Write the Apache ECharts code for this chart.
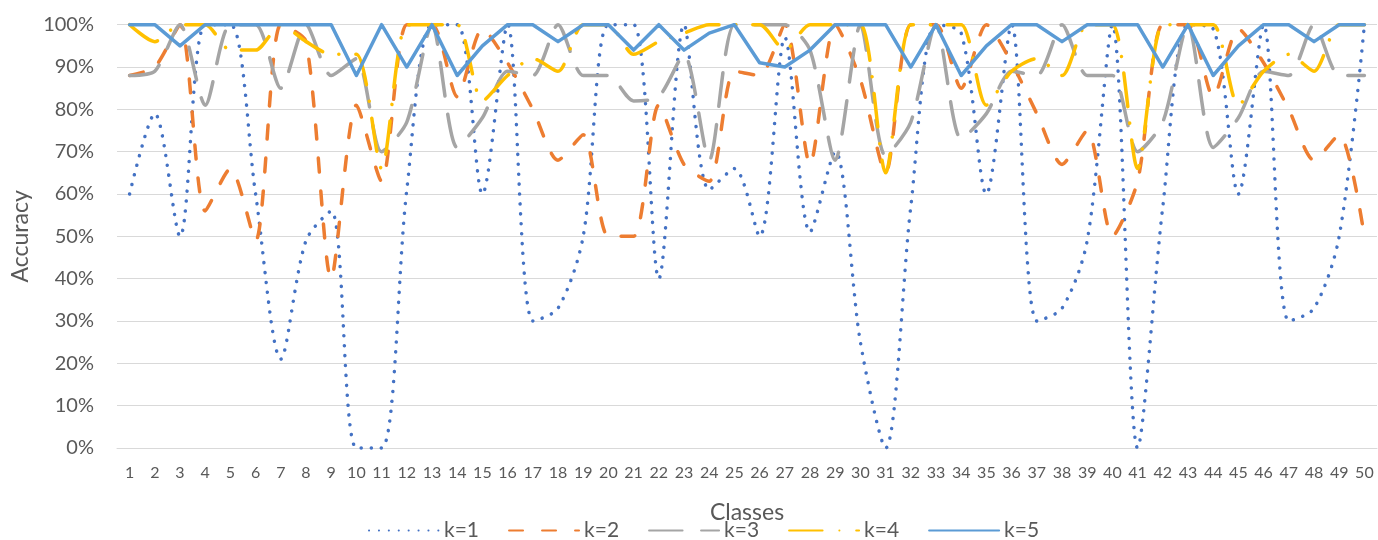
<!DOCTYPE html>
<html><head><meta charset="utf-8">
<script src="https://cdn.jsdelivr.net/npm/echarts@6/dist/echarts.min.js"></script>
<style>html,body{margin:0;padding:0;background:#fff}#c{width:1378px;height:540px}</style>
</head><body><div id="c"></div>
<script>
const classes = ['1','2','3','4','5','6','7','8','9','10','11','12','13','14','15','16','17','18','19','20',
  '21','22','23','24','25','26','27','28','29','30','31','32','33','34','35','36','37','38','39','40',
  '41','42','43','44','45','46','47','48','49','50'];
const seriesNames = ['k=1','k=2','k=3','k=4','k=5'];
const k1 = [60,79,50,100,100,60,21,49,56,0, 0,61,100,100,60,100,30,33,50,100, 100,40,100,61,66,50,97,51,70,25, 0,57,100,98,60,100,30,33,49,100, 0,57,100,99,60,100,30,33,50,100];
const k2 = [88,90,100,56,66,49,100,96,40,81, 63,100,100,83,99,91,80,68,74,50, 50,81,67,63,89,88,100,67,100,87, 65,100,100,85,100,91,79,67,75,50, 63,100,100,83,99,91,80,68,74,50];
const k3 = [88,89,100,81,100,100,85,100,88,92, 70,77,100,71,78,89,88,100,88,88, 82,83,93,68,100,100,100,94,68,100, 69,77,100,73,79,89,88,100,88,88, 70,77,100,71,78,89,88,100,88,88];
const k4 = [100,96,100,100,94,94,100,96,93,93, 66,100,100,100,82,88,92,89,100,100, 93,96,98,100,100,100,94,100,100,100, 65,100,100,100,81,89,92,88,100,100, 66,100,100,100,81,89,93,89,100,100];
const k5 = [100,100,95,100,100,100,100,100,100,88, 100,90,100,88,95,100,100,96,100,100, 94,100,94,98,100,91,90,94,100,100, 100,90,100,88,95,100,100,96,100,100, 100,90,100,88,95,100,100,96,100,100];
const yTicks = [0,10,20,30,40,50,60,70,80,90,100];

const colors = ['#4472C4','#ED7D31','#A5A5A5','#FFC000','#5B9BD5'];
const dashes = [[0.1, 9.8], [14, 19], [33.5, 18.5], [33.5, 16.75, 0.1, 16.75], 'solid'];
const smooths = [0.3, 0.25, 0.25, 0.25, false];
const values = [k1, k2, k3, k4, k5];
const FONT = 'Lato';
const TXT = '#595959';

const series = seriesNames.map((n, i) => ({
  name: n, type: 'line', data: values[i], symbol: 'none', smooth: smooths[i], clip: false,
  lineStyle: { color: colors[i], width: 3.5, type: dashes[i], cap: 'round', join: 'round' },
  itemStyle: { color: colors[i] },
  emphasis: { disabled: true }
}));

const chart = echarts.init(document.getElementById('c'));
chart.setOption({
  animation: false,
  grid: { left: 117, right: 1, top: 24.7, bottom: 92, containLabel: false },
  legend: {
    data: seriesNames, left: 368, top: 520, itemWidth: 70, itemHeight: 25, itemGap: 29, padding: 0,
    itemStyle: { opacity: 0 },
    textStyle: { fontFamily: FONT, fontSize: 21, color: TXT }
  },
  xAxis: {
    type: 'category', data: classes, boundaryGap: true,
    axisTick: { show: false },
    axisLine: { lineStyle: { color: '#D9D9D9', width: 1 } },
    axisLabel: { interval: 0, fontFamily: FONT, fontSize: 16, color: TXT, margin: 17 },
    name: 'Classes', nameLocation: 'middle', nameGap: 53,
    nameTextStyle: { fontFamily: FONT, fontSize: 23, color: TXT }
  },
  yAxis: {
    type: 'value', min: yTicks[0], max: yTicks[yTicks.length - 1], interval: 10,
    axisLabel: { formatter: '{value}%', fontFamily: FONT, fontSize: 20, color: TXT, margin: 23 },
    splitLine: { lineStyle: { color: '#D9D9D9', width: 1 } },
    axisLine: { show: false }, axisTick: { show: false },
    name: 'Accuracy', nameLocation: 'middle', nameGap: 84,
    nameTextStyle: { fontFamily: FONT, fontSize: 23, color: TXT }
  },
  series: series
});
</script></body></html>
